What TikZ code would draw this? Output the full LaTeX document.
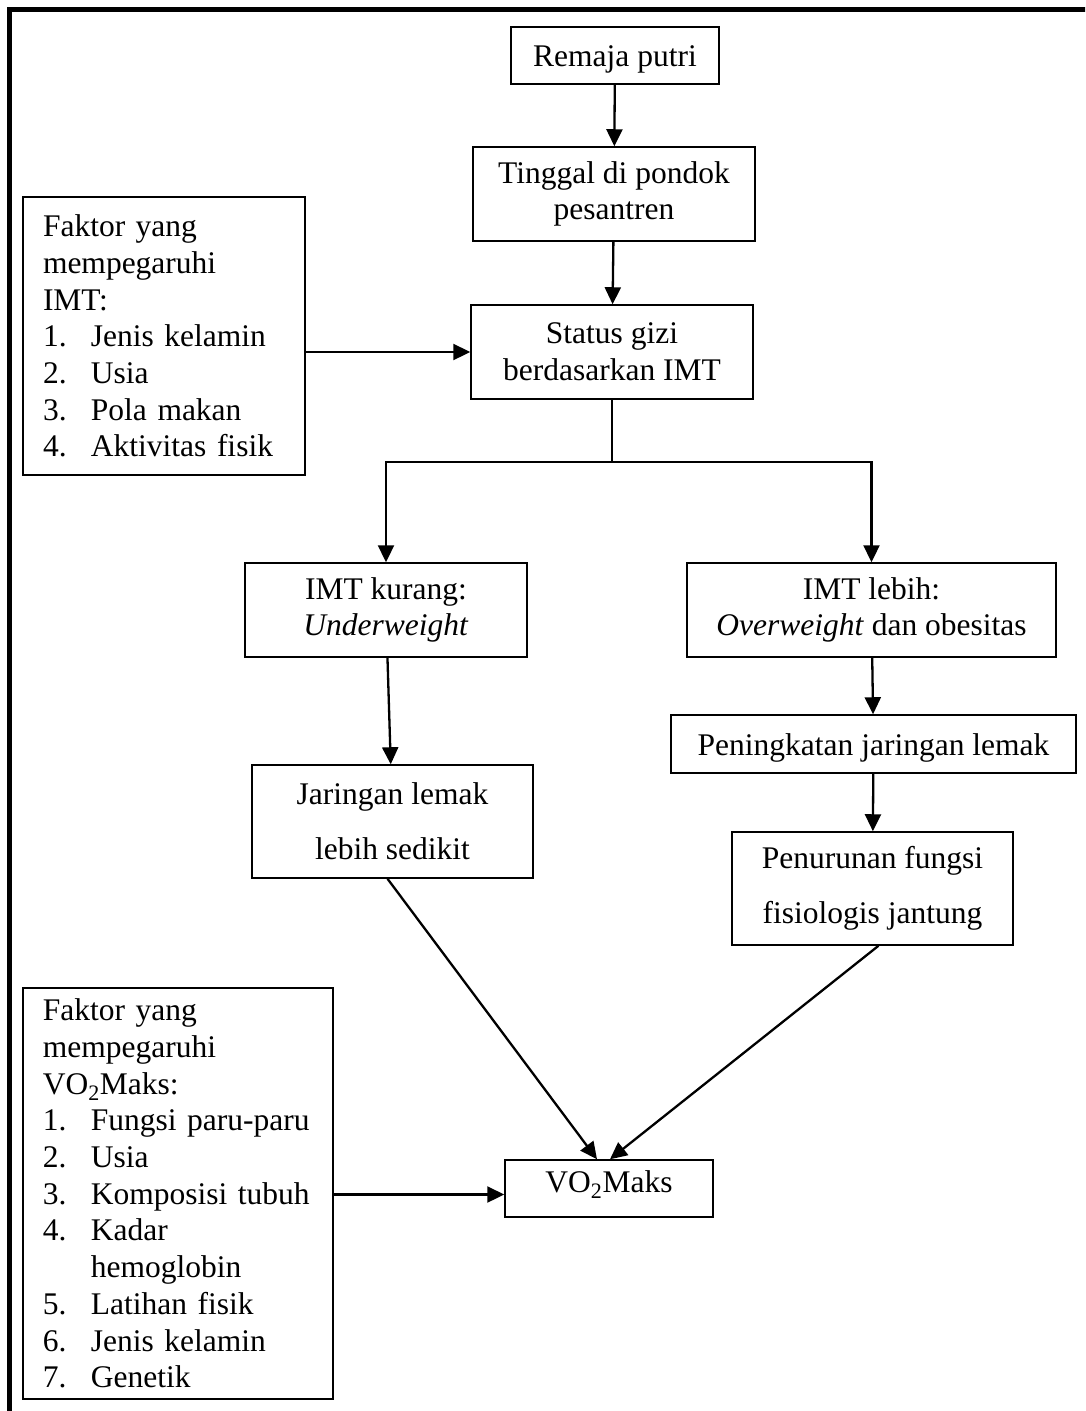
\documentclass[tikz,border=0pt]{standalone}
\usepackage{fontspec}
\setmainfont{Liberation Serif}
\usetikzlibrary{arrows.meta,calc}
\newcommand{\itm}[2]{\makebox[48pt][l]{#1}#2}

\begin{document}
\begin{tikzpicture}[x=1pt,y=-1pt,
    box/.style={draw,line width=1.5pt,align=center,inner sep=0pt,
        font=\fontsize{31.5}{36.7}\selectfont},
    satu/.style={box,text height=22pt,text depth=0pt},
    daftar/.style={box,align=left,inner xsep=20pt},
    arr/.style={line width=2.3pt,-{Triangle[length=17pt,width=16pt]}}]
    \useasboundingbox (0,0) rectangle (1085,1411);
    \clip (0,0) rectangle (1085,1411);
    % bingkai luar
    \draw[line width=4.5pt] (9.5,1440) -- (9.5,9.5) -- (1110,9.5);

    \node[satu,minimum width=208pt,minimum height=57pt] (remaja) at (615,55.5) {Remaja putri};
    \node[box,minimum width=282pt,minimum height=94pt] (tinggal) at (614,194) {Tinggal di pondok\\pesantren};
    \node[box,minimum width=282pt,minimum height=94pt] (status) at (612,352) {Status gizi\\berdasarkan IMT};
    \node[daftar,text width=242pt,minimum height=278pt] (fimt) at (164,336)
        {Faktor yang\\mempegaruhi\\IMT:\\\itm{1.}{Jenis kelamin}\\\itm{2.}{Usia}\\\itm{3.}{Pola makan}\\\itm{4.}{Aktivitas fisik}};
    \node[box,minimum width=282pt,minimum height=94pt] (kurang) at (386,610) {IMT kurang:\\\textit{Underweight}};
    \node[box,minimum width=369pt,minimum height=94pt] (lebih) at (871.5,610) {IMT lebih:\\\textit{Overweight} dan obesitas};
    \node[box,minimum width=281pt,minimum height=113pt] (jaringan) at (392.5,821.5) {Jaringan lemak\\[18pt]lebih sedikit};
    \node[satu,minimum width=405pt,minimum height=58pt] (naik) at (873.5,744) {Peningkatan jaringan lemak};
    \node[box,minimum width=281pt,minimum height=113pt] (turun) at (872.5,888.5) {Penurunan fungsi\\[18pt]fisiologis jantung};
    \node[daftar,text width=270pt,minimum height=411pt] (fvo) at (177.85,1193.5)
        {Faktor yang\\mempegaruhi\\VO\textsubscript{2}Maks:\\\itm{1.}{Fungsi paru-paru}\\\itm{2.}{Usia}\\\itm{3.}{Komposisi tubuh}\\\itm{4.}{Kadar}\\\hspace*{48pt}hemoglobin\\\itm{5.}{Latihan fisik}\\\itm{6.}{Jenis kelamin}\\\itm{7.}{Genetik}};
    \node[box,text height=22pt,text depth=15pt,minimum width=208pt,minimum height=57pt] (vo) at (609,1188.5) {VO\textsubscript{2}Maks};

    \draw[arr] (remaja) -- (tinggal);
    \draw[arr] (tinggal) -- (status);
    \draw[arr] (fimt.east |- status.west) -- (status.west);
    \coordinate (cab) at ($(status.south)+(0,62)$);
    \draw[line width=2.3pt] (status.south) -- (cab);
    \draw[arr] (cab) -| (kurang.north);
    \draw[arr] (cab) -| (lebih.north);
    \draw[arr] (kurang) -- (jaringan);
    \draw[arr] (lebih) -- (naik);
    \draw[arr] (naik) -- (turun);
    \draw[arr] ([xshift=-5pt]jaringan.south) -- ([xshift=-12pt]vo.north);
    \draw[arr] ([xshift=6pt]turun.south) -- ([xshift=1pt]vo.north);
    \coordinate (voin) at ($(vo.west)+(0,6)$);
    \draw[arr] (voin -| fvo.east) -- (voin);
\end{tikzpicture}
\end{document}
